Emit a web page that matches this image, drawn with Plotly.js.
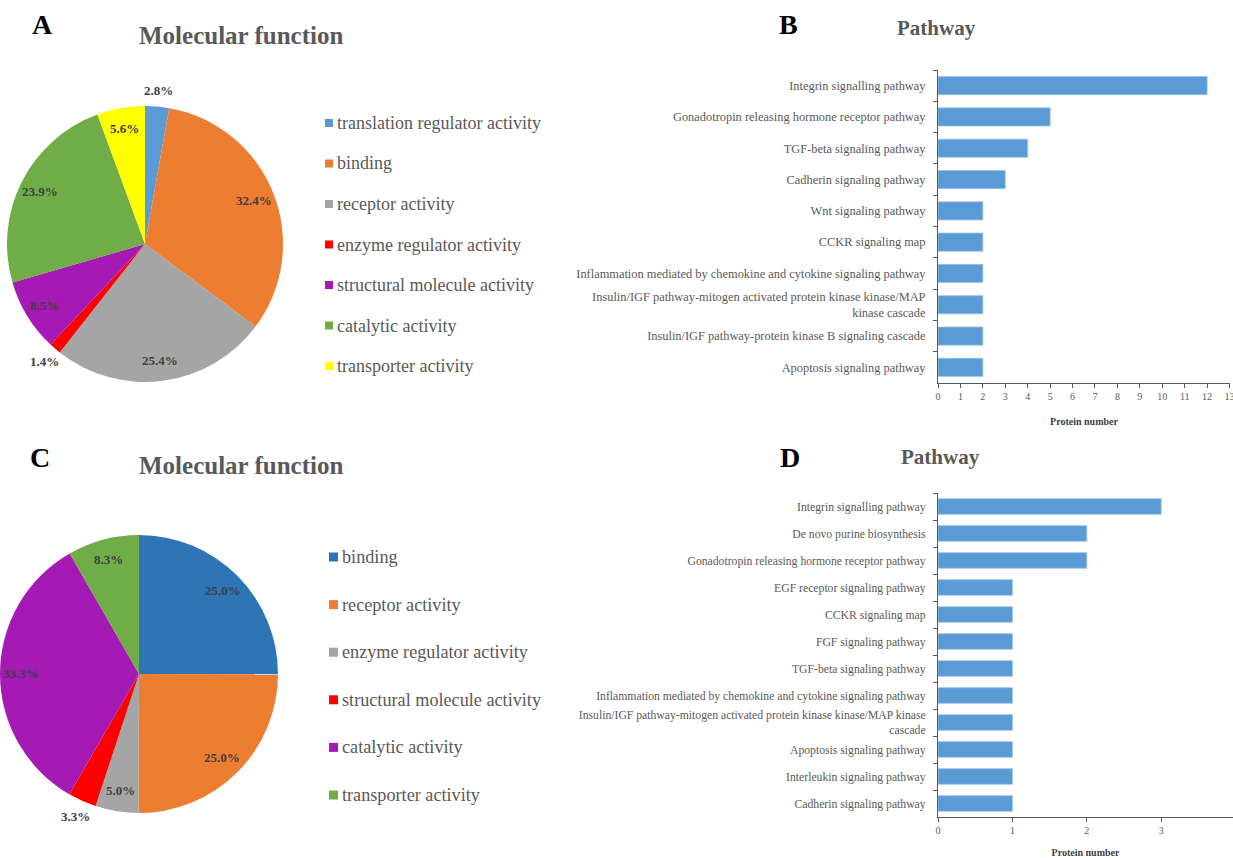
<!DOCTYPE html>
<html>
<head>
<meta charset="utf-8">
<script src="https://cdn.plot.ly/plotly-3.0.1.min.js"></script>
<style>html,body{margin:0;padding:0;background:#fff;}#chart{width:1233px;height:858px;}</style>
</head>
<body>
<div id="chart"></div>
<script>
// ---- Data ----
var pieACategories = ["translation regulator activity","binding","receptor activity","enzyme regulator activity","structural molecule activity","catalytic activity","transporter activity"];
var pieAValues = [2.8, 32.4, 25.4, 1.4, 8.5, 23.9, 5.6];
var pieAColors = ["#5b9bd5","#ed7d31","#a5a5a5","#ff0000","#a51ab5","#70ad47","#ffff00"];
var pieALabelPlace = ["out","in","in","out","in","in","in"];

var pieCCategories = ["binding","receptor activity","enzyme regulator activity","structural molecule activity","catalytic activity","transporter activity"];
var pieCValues = [25.0, 25.0, 5.0, 3.3, 33.3, 8.3];
var pieCColors = ["#2e75b6","#ed7d31","#a5a5a5","#ff0000","#a51ab5","#70ad47"];
var pieCLabelPlace = ["in","in","in","out","in","in"];

var barBPathways = ["Integrin signalling pathway","Gonadotropin releasing hormone receptor pathway","TGF-beta signaling pathway","Cadherin signaling pathway","Wnt signaling pathway","CCKR signaling map","Inflammation mediated by chemokine and cytokine signaling pathway","Insulin/IGF pathway-mitogen activated protein kinase kinase/MAP<br>kinase cascade","Insulin/IGF pathway-protein kinase B signaling cascade","Apoptosis signaling pathway"];
var barBCounts = [12, 5, 4, 3, 2, 2, 2, 2, 2, 2];
var barBTicks = [0,1,2,3,4,5,6,7,8,9,10,11,12,13];

var barDPathways = ["Integrin signalling pathway","De novo purine biosynthesis","Gonadotropin releasing hormone receptor pathway","EGF receptor signaling pathway","CCKR signaling map","FGF signaling pathway","TGF-beta signaling pathway","Inflammation mediated by chemokine and cytokine signaling pathway","Insulin/IGF pathway-mitogen activated protein kinase kinase/MAP kinase<br>cascade","Apoptosis signaling pathway","Interleukin signaling pathway","Cadherin signaling pathway"];
var barDCounts = [3, 2, 2, 1, 1, 1, 1, 1, 1, 1, 1, 1];
var barDTicks = [0,1,2,3];

// ---- Layout helpers ----
var W = 1233, H = 858;
function px(x){ return x / W; }
function py(y){ return 1 - y / H; }
var SERIF = "Liberation Serif, Times New Roman, serif";

// pie boxes (pixels): left, top, size
var pieABox = {l: 7, t: 106, s: 276};
var pieCBox = {l: 0, t: 535, s: 278};

var traces = [];
function pieTrace(labels, values, colors, box){
  return {
    type: "pie", labels: labels, values: values, sort: false,
    direction: "clockwise", rotation: 0,
    marker: {colors: colors, line: {width: 0}},
    textinfo: "none",
    domain: {x: [px(box.l), px(box.l + box.s)], y: [py(box.t + box.s), py(box.t)]},
    showlegend: false, automargin: false, hoverinfo: "label+percent"
  };
}
traces.push(pieTrace(pieACategories, pieAValues, pieAColors, pieABox));
traces.push(pieTrace(pieCCategories, pieCValues, pieCColors, pieCBox));
traces.push({
  type: "bar", orientation: "h", x: barBCounts, y: barBPathways, xaxis: "x", yaxis: "y",
  marker: {color: "#5b9bd5", line: {color: "#9cc3e6", width: 0.8}}, showlegend: false
});
traces.push({
  type: "bar", orientation: "h", x: barDCounts, y: barDPathways, xaxis: "x2", yaxis: "y2",
  marker: {color: "#5b9bd5", line: {color: "#9cc3e6", width: 0.8}}, showlegend: false
});

var axisCommon = {
  showgrid: false, zeroline: false, showline: true, linecolor: "#595959", linewidth: 1,
  ticks: "outside", ticklen: 4, tickcolor: "#595959", ticklabeloverflow: "allow"
};
var layout = {
  width: W, height: H, margin: {l: 0, r: 0, t: 0, b: 0},
  paper_bgcolor: "#ffffff", plot_bgcolor: "#ffffff",
  bargap: 0.42, showlegend: false,
  xaxis: Object.assign({}, axisCommon, {
    domain: [px(938), px(1230)], anchor: "y", range: [0, 13.02], tickmode: "array", tickvals: barBTicks,
    tickfont: {family: SERIF, size: 10, color: "#595959"},
    title: {text: "Protein number", font: {family: SERIF, size: 10, color: "#404040", weight: "bold"}, standoff: 16}
  }),
  yaxis: Object.assign({}, axisCommon, {
    domain: [py(383), py(70)], anchor: "x", type: "category", autorange: "reversed",
    tickson: "boundaries", ticklabelstandoff: 9,
    tickfont: {family: SERIF, size: 12.4, color: "#595959"}
  }),
  xaxis2: Object.assign({}, axisCommon, {
    domain: [px(938), 1], anchor: "y2", range: [0, 3.965], tickmode: "array", tickvals: barDTicks,
    tickfont: {family: SERIF, size: 10, color: "#595959"},
    title: {text: "Protein number", font: {family: SERIF, size: 10, color: "#404040", weight: "bold"}, standoff: 14}
  }),
  yaxis2: Object.assign({}, axisCommon, {
    domain: [py(817), py(493)], anchor: "x2", type: "category", autorange: "reversed",
    tickson: "boundaries", ticklabelstandoff: 9,
    tickfont: {family: SERIF, size: 11.7, color: "#595959"}
  }),
  annotations: [], shapes: []
};

function addText(text, x, y, size, color, anchor){
  layout.annotations.push({
    text: text, x: px(x), y: py(y), xref: "paper", yref: "paper",
    xanchor: anchor || "center", yanchor: "middle", showarrow: false,
    font: {family: SERIF, size: size, color: color, weight: "bold"}
  });
}
addText("A", 42, 25, 28, "#000000");
addText("Molecular function", 241, 35, 25, "#595959");
addText("B", 788, 25, 28, "#000000");
addText("Pathway", 936, 28, 21, "#595959");
addText("C", 40, 457, 28, "#000000");
addText("Molecular function", 241, 465, 25, "#595959");
addText("D", 790, 457, 28, "#000000");
addText("Pathway", 940, 457, 21, "#595959");

// percentage labels placed at each slice's mid-angle (derived from the values)
function addPieLabels(values, places, box){
  var total = values.reduce(function(a, b){ return a + b; }, 0);
  var r = box.s / 2, cx = box.l + r, cy = box.t + r;
  var cum = 0;
  for (var i = 0; i < values.length; i++){
    var mid = (cum + values[i] / 2) / total * 2 * Math.PI;
    cum += values[i];
    var f = places[i] === "out" ? 1.12 : 0.85;
    addText(values[i].toFixed(1) + "%", cx + Math.sin(mid) * r * f, cy - Math.cos(mid) * r * f, 13, "#404040");
  }
}
addPieLabels(pieAValues, pieALabelPlace, pieABox);
addPieLabels(pieCValues, pieCLabelPlace, pieCBox);

function addLegend(cats, colors, x0, y0, dy, sq, fs){
  for (var i = 0; i < cats.length; i++){
    var yc = y0 + i * dy;
    layout.shapes.push({
      type: "rect", xref: "paper", yref: "paper",
      x0: px(x0), x1: px(x0 + sq), y0: py(yc + sq / 2), y1: py(yc - sq / 2),
      fillcolor: colors[i], line: {width: 0}
    });
    layout.annotations.push({
      text: cats[i], x: px(x0 + sq + 2), y: py(yc), xref: "paper", yref: "paper",
      xanchor: "left", yanchor: "middle", showarrow: false,
      font: {family: SERIF, size: fs, color: "#595959"}
    });
  }
}
addLegend(pieACategories, pieAColors, 325, 123, 40.5, 8, 18);
addLegend(pieCCategories, pieCColors, 329, 557, 47.6, 9, 18.2);

Plotly.newPlot("chart", traces, layout, {displayModeBar: false, staticPlot: true});
</script>
</body>
</html>
